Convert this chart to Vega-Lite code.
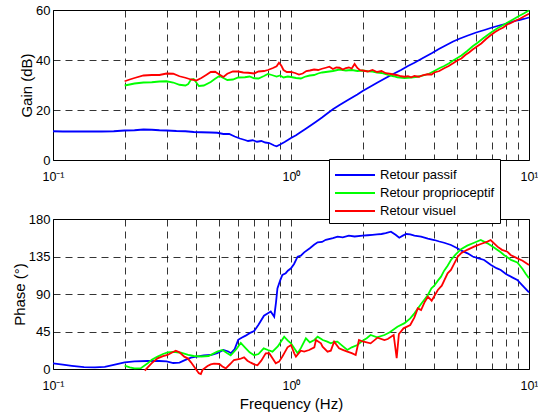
{
 "$schema": "https://vega.github.io/schema/vega-lite/v6.json",
 "padding": {"left": 11, "top": 3, "right": 2, "bottom": 2},
 "background": "white",
 "config": {
  "font": "Liberation Sans",
  "view": {"stroke": "black", "strokeWidth": 1},
  "axis": {"gridColor": "black", "gridDash": [7, 5], "gridWidth": 0.8, "gridOpacity": 1, "domain": false, "ticks": false, "labelColor": "black", "labelFont": "Liberation Sans", "labelFontSize": 13, "titleFont": "Liberation Sans", "titleFontSize": 15, "titleFontWeight": "normal", "titleColor": "black"},
  "line": {"strokeWidth": 1.8, "clip": true}
 },
 "datasets": {
  "gain": [
   {"s":"a","f":0.1,"v":11.5},{"s":"a","f":0.11,"v":11.4},{"s":"a","f":0.125,"v":11.4},{"s":"a","f":0.14,"v":11.4},{"s":"a","f":0.16,"v":11.4},{"s":"a","f":0.18,"v":11.5},{"s":"a","f":0.2,"v":11.8},{"s":"a","f":0.22,"v":11.9},{"s":"a","f":0.24,"v":12.2},{"s":"a","f":0.26,"v":12.1},{"s":"a","f":0.28,"v":11.9},{"s":"a","f":0.3,"v":11.8},{"s":"a","f":0.33,"v":11.6},{"s":"a","f":0.36,"v":11.5},{"s":"a","f":0.39,"v":11.2},{"s":"a","f":0.42,"v":11.1},{"s":"a","f":0.46,"v":11.0},{"s":"a","f":0.49,"v":10.9},{"s":"a","f":0.52,"v":10.4},{"s":"a","f":0.55,"v":10.4},{"s":"a","f":0.58,"v":9.4},{"s":"a","f":0.61,"v":8.6},{"s":"a","f":0.64,"v":8.0},{"s":"a","f":0.66,"v":7.6},{"s":"a","f":0.69,"v":7.9},{"s":"a","f":0.72,"v":7.3},{"s":"a","f":0.75,"v":7.6},{"s":"a","f":0.78,"v":7.0},{"s":"a","f":0.81,"v":6.8},{"s":"a","f":0.85,"v":5.8},{"s":"a","f":0.87,"v":5.5},{"s":"a","f":0.9,"v":6.2},{"s":"a","f":0.94,"v":7.2},{"s":"a","f":0.97,"v":8.0},{"s":"a","f":1.0,"v":8.8},{"s":"a","f":1.05,"v":9.9},{"s":"a","f":1.1,"v":11.2},{"s":"a","f":1.15,"v":12.4},{"s":"a","f":1.2,"v":13.6},{"s":"a","f":1.27,"v":15.2},{"s":"a","f":1.35,"v":17.0},{"s":"a","f":1.42,"v":18.6},{"s":"a","f":1.5,"v":20.3},{"s":"a","f":1.6,"v":22.0},{"s":"a","f":1.7,"v":23.5},{"s":"a","f":1.8,"v":24.9},{"s":"a","f":1.9,"v":26.2},{"s":"a","f":2.0,"v":27.6},{"s":"a","f":2.15,"v":29.3},{"s":"a","f":2.3,"v":30.9},{"s":"a","f":2.5,"v":32.8},{"s":"a","f":2.7,"v":34.5},{"s":"a","f":2.9,"v":36.0},{"s":"a","f":3.1,"v":37.6},{"s":"a","f":3.3,"v":38.9},{"s":"a","f":3.6,"v":40.9},{"s":"a","f":3.9,"v":42.7},{"s":"a","f":4.2,"v":44.5},{"s":"a","f":4.5,"v":46.0},{"s":"a","f":4.8,"v":47.4},{"s":"a","f":5.1,"v":48.5},{"s":"a","f":5.5,"v":49.7},{"s":"a","f":6.0,"v":51.0},{"s":"a","f":6.5,"v":52.0},{"s":"a","f":7.0,"v":53.0},{"s":"a","f":7.5,"v":53.8},{"s":"a","f":8.0,"v":54.5},{"s":"a","f":8.5,"v":55.3},{"s":"a","f":9.0,"v":55.9},{"s":"a","f":9.5,"v":56.4},{"s":"a","f":10,"v":57.0},
   {"s":"b","f":0.2,"v":29.8},{"s":"b","f":0.21,"v":30.2},{"s":"b","f":0.22,"v":30.6},{"s":"b","f":0.24,"v":31.0},{"s":"b","f":0.26,"v":31.1},{"s":"b","f":0.28,"v":31.4},{"s":"b","f":0.3,"v":31.5},{"s":"b","f":0.32,"v":31.0},{"s":"b","f":0.34,"v":30.1},{"s":"b","f":0.36,"v":29.8},{"s":"b","f":0.37,"v":30.4},{"s":"b","f":0.38,"v":32.2},{"s":"b","f":0.39,"v":32.4},{"s":"b","f":0.4,"v":31.0},{"s":"b","f":0.41,"v":29.6},{"s":"b","f":0.43,"v":29.8},{"s":"b","f":0.46,"v":31.2},{"s":"b","f":0.48,"v":32.5},{"s":"b","f":0.5,"v":33.6},{"s":"b","f":0.52,"v":32.8},{"s":"b","f":0.54,"v":32.0},{"s":"b","f":0.57,"v":32.2},{"s":"b","f":0.6,"v":33.0},{"s":"b","f":0.64,"v":33.1},{"s":"b","f":0.67,"v":33.4},{"s":"b","f":0.7,"v":32.7},{"s":"b","f":0.73,"v":32.6},{"s":"b","f":0.77,"v":33.6},{"s":"b","f":0.8,"v":34.4},{"s":"b","f":0.83,"v":34.0},{"s":"b","f":0.87,"v":33.4},{"s":"b","f":0.9,"v":33.8},{"s":"b","f":0.93,"v":33.0},{"s":"b","f":0.97,"v":33.4},{"s":"b","f":1.0,"v":33.2},{"s":"b","f":1.05,"v":32.8},{"s":"b","f":1.1,"v":32.6},{"s":"b","f":1.15,"v":33.4},{"s":"b","f":1.2,"v":33.8},{"s":"b","f":1.25,"v":34.0},{"s":"b","f":1.3,"v":34.6},{"s":"b","f":1.35,"v":35.0},{"s":"b","f":1.4,"v":35.2},{"s":"b","f":1.5,"v":35.6},{"s":"b","f":1.6,"v":36.2},{"s":"b","f":1.7,"v":35.8},{"s":"b","f":1.8,"v":36.0},{"s":"b","f":1.9,"v":35.6},{"s":"b","f":2.0,"v":35.8},{"s":"b","f":2.1,"v":35.5},{"s":"b","f":2.2,"v":35.4},{"s":"b","f":2.3,"v":35.0},{"s":"b","f":2.4,"v":34.8},{"s":"b","f":2.5,"v":34.3},{"s":"b","f":2.6,"v":33.8},{"s":"b","f":2.7,"v":33.5},{"s":"b","f":2.8,"v":33.1},{"s":"b","f":3.0,"v":32.8},{"s":"b","f":3.2,"v":33.0},{"s":"b","f":3.4,"v":33.3},{"s":"b","f":3.6,"v":33.8},{"s":"b","f":3.8,"v":34.5},{"s":"b","f":4.0,"v":35.6},{"s":"b","f":4.2,"v":36.7},{"s":"b","f":4.4,"v":37.6},{"s":"b","f":4.6,"v":38.6},{"s":"b","f":4.8,"v":39.8},{"s":"b","f":5.0,"v":40.8},{"s":"b","f":5.2,"v":41.8},{"s":"b","f":5.5,"v":43.6},{"s":"b","f":5.8,"v":45.5},{"s":"b","f":6.1,"v":47.0},{"s":"b","f":6.4,"v":48.6},{"s":"b","f":6.7,"v":50.0},{"s":"b","f":7.0,"v":51.3},{"s":"b","f":7.4,"v":52.8},{"s":"b","f":7.8,"v":54.0},{"s":"b","f":8.2,"v":55.2},{"s":"b","f":8.6,"v":56.3},{"s":"b","f":9.0,"v":57.4},{"s":"b","f":9.5,"v":58.6},{"s":"b","f":10,"v":59.8},
   {"s":"c","f":0.2,"v":31.5},{"s":"c","f":0.21,"v":32.2},{"s":"c","f":0.22,"v":32.8},{"s":"c","f":0.24,"v":33.8},{"s":"c","f":0.26,"v":34.0},{"s":"c","f":0.28,"v":34.0},{"s":"c","f":0.3,"v":34.6},{"s":"c","f":0.32,"v":34.5},{"s":"c","f":0.34,"v":33.5},{"s":"c","f":0.36,"v":32.9},{"s":"c","f":0.38,"v":32.2},{"s":"c","f":0.4,"v":31.8},{"s":"c","f":0.42,"v":32.8},{"s":"c","f":0.44,"v":34.0},{"s":"c","f":0.46,"v":35.2},{"s":"c","f":0.48,"v":35.3},{"s":"c","f":0.5,"v":34.2},{"s":"c","f":0.52,"v":33.2},{"s":"c","f":0.54,"v":34.5},{"s":"c","f":0.57,"v":35.4},{"s":"c","f":0.6,"v":35.4},{"s":"c","f":0.63,"v":35.0},{"s":"c","f":0.66,"v":34.9},{"s":"c","f":0.7,"v":34.6},{"s":"c","f":0.73,"v":35.4},{"s":"c","f":0.77,"v":35.6},{"s":"c","f":0.8,"v":36.0},{"s":"c","f":0.84,"v":36.8},{"s":"c","f":0.87,"v":37.5},{"s":"c","f":0.89,"v":38.9},{"s":"c","f":0.91,"v":37.8},{"s":"c","f":0.93,"v":36.0},{"s":"c","f":0.96,"v":35.2},{"s":"c","f":1.0,"v":35.2},{"s":"c","f":1.04,"v":34.8},{"s":"c","f":1.08,"v":34.2},{"s":"c","f":1.12,"v":34.6},{"s":"c","f":1.16,"v":35.6},{"s":"c","f":1.2,"v":35.8},{"s":"c","f":1.25,"v":36.2},{"s":"c","f":1.3,"v":36.0},{"s":"c","f":1.35,"v":36.5},{"s":"c","f":1.4,"v":36.9},{"s":"c","f":1.45,"v":37.3},{"s":"c","f":1.5,"v":36.4},{"s":"c","f":1.55,"v":37.0},{"s":"c","f":1.6,"v":36.9},{"s":"c","f":1.65,"v":36.2},{"s":"c","f":1.7,"v":36.8},{"s":"c","f":1.75,"v":37.0},{"s":"c","f":1.8,"v":36.6},{"s":"c","f":1.85,"v":38.4},{"s":"c","f":1.9,"v":36.8},{"s":"c","f":1.95,"v":35.9},{"s":"c","f":2.0,"v":35.8},{"s":"c","f":2.1,"v":35.4},{"s":"c","f":2.2,"v":36.0},{"s":"c","f":2.3,"v":35.2},{"s":"c","f":2.4,"v":35.6},{"s":"c","f":2.5,"v":34.7},{"s":"c","f":2.6,"v":34.5},{"s":"c","f":2.7,"v":34.2},{"s":"c","f":2.8,"v":33.9},{"s":"c","f":2.9,"v":33.5},{"s":"c","f":3.0,"v":33.3},{"s":"c","f":3.1,"v":33.5},{"s":"c","f":3.2,"v":33.1},{"s":"c","f":3.3,"v":33.6},{"s":"c","f":3.45,"v":33.3},{"s":"c","f":3.6,"v":34.0},{"s":"c","f":3.75,"v":34.3},{"s":"c","f":3.9,"v":34.2},{"s":"c","f":4.0,"v":35.0},{"s":"c","f":4.2,"v":35.6},{"s":"c","f":4.4,"v":36.7},{"s":"c","f":4.6,"v":37.6},{"s":"c","f":4.8,"v":38.7},{"s":"c","f":5.0,"v":39.8},{"s":"c","f":5.2,"v":40.6},{"s":"c","f":5.4,"v":42.0},{"s":"c","f":5.6,"v":43.0},{"s":"c","f":5.8,"v":44.2},{"s":"c","f":6.0,"v":45.2},{"s":"c","f":6.3,"v":46.6},{"s":"c","f":6.6,"v":48.4},{"s":"c","f":6.9,"v":49.9},{"s":"c","f":7.2,"v":51.2},{"s":"c","f":7.5,"v":52.2},{"s":"c","f":7.8,"v":53.0},{"s":"c","f":8.1,"v":54.2},{"s":"c","f":8.4,"v":54.8},{"s":"c","f":8.8,"v":55.8},{"s":"c","f":9.2,"v":56.6},{"s":"c","f":9.6,"v":57.6},{"s":"c","f":10,"v":58.5}
  ],
  "phase": [
   {"s":"a","f":0.1,"v":6.8},{"s":"a","f":0.11,"v":5.2},{"s":"a","f":0.12,"v":3.8},{"s":"a","f":0.135,"v":2.2},{"s":"a","f":0.15,"v":2.0},{"s":"a","f":0.165,"v":2.6},{"s":"a","f":0.18,"v":5.0},{"s":"a","f":0.2,"v":8.0},{"s":"a","f":0.22,"v":9.2},{"s":"a","f":0.25,"v":9.6},{"s":"a","f":0.28,"v":9.6},{"s":"a","f":0.3,"v":9.2},{"s":"a","f":0.32,"v":7.2},{"s":"a","f":0.34,"v":7.6},{"s":"a","f":0.36,"v":11.0},{"s":"a","f":0.38,"v":13.6},{"s":"a","f":0.4,"v":14.8},{"s":"a","f":0.43,"v":16.2},{"s":"a","f":0.46,"v":16.8},{"s":"a","f":0.49,"v":19.0},{"s":"a","f":0.52,"v":22.8},{"s":"a","f":0.545,"v":21.0},{"s":"a","f":0.56,"v":19.0},{"s":"a","f":0.58,"v":24.0},{"s":"a","f":0.6,"v":35.0},{"s":"a","f":0.62,"v":37.6},{"s":"a","f":0.645,"v":40.0},{"s":"a","f":0.67,"v":43.0},{"s":"a","f":0.7,"v":45.5},{"s":"a","f":0.73,"v":53},{"s":"a","f":0.77,"v":64},{"s":"a","f":0.8,"v":67},{"s":"a","f":0.822,"v":69},{"s":"a","f":0.85,"v":62.8},{"s":"a","f":0.865,"v":80},{"s":"a","f":0.877,"v":96.8},{"s":"a","f":0.9,"v":106},{"s":"a","f":0.92,"v":112.8},{"s":"a","f":0.95,"v":115},{"s":"a","f":0.97,"v":118},{"s":"a","f":1.0,"v":120.8},{"s":"a","f":1.03,"v":126},{"s":"a","f":1.066,"v":134.8},{"s":"a","f":1.1,"v":136},{"s":"a","f":1.136,"v":140},{"s":"a","f":1.2,"v":145},{"s":"a","f":1.25,"v":149},{"s":"a","f":1.294,"v":152},{"s":"a","f":1.35,"v":152.5},{"s":"a","f":1.4,"v":155},{"s":"a","f":1.5,"v":157},{"s":"a","f":1.57,"v":158.8},{"s":"a","f":1.65,"v":158},{"s":"a","f":1.75,"v":160},{"s":"a","f":1.85,"v":159},{"s":"a","f":2.0,"v":160},{"s":"a","f":2.1,"v":160.5},{"s":"a","f":2.2,"v":161},{"s":"a","f":2.3,"v":161.5},{"s":"a","f":2.4,"v":162},{"s":"a","f":2.5,"v":163},{"s":"a","f":2.63,"v":164.8},{"s":"a","f":2.75,"v":161},{"s":"a","f":2.85,"v":157.6},{"s":"a","f":2.95,"v":160},{"s":"a","f":3.05,"v":162},{"s":"a","f":3.17,"v":161.6},{"s":"a","f":3.3,"v":160},{"s":"a","f":3.52,"v":158.8},{"s":"a","f":3.76,"v":156.5},{"s":"a","f":4.0,"v":154.8},{"s":"a","f":4.2,"v":153},{"s":"a","f":4.4,"v":151.5},{"s":"a","f":4.7,"v":148.8},{"s":"a","f":5.0,"v":145},{"s":"a","f":5.2,"v":142},{"s":"a","f":5.52,"v":138.8},{"s":"a","f":5.8,"v":135},{"s":"a","f":6.1,"v":133},{"s":"a","f":6.48,"v":130.8},{"s":"a","f":6.9,"v":125},{"s":"a","f":7.3,"v":121},{"s":"a","f":7.61,"v":118.8},{"s":"a","f":8.0,"v":114},{"s":"a","f":8.5,"v":110},{"s":"a","f":8.93,"v":106.8},{"s":"a","f":9.4,"v":100},{"s":"a","f":10,"v":92},
   {"s":"b","f":0.2,"v":4},{"s":"b","f":0.21,"v":2},{"s":"b","f":0.22,"v":0.8},{"s":"b","f":0.234,"v":1.0},{"s":"b","f":0.25,"v":6.8},{"s":"b","f":0.26,"v":11},{"s":"b","f":0.275,"v":14.8},{"s":"b","f":0.29,"v":18},{"s":"b","f":0.303,"v":20},{"s":"b","f":0.32,"v":20.5},{"s":"b","f":0.345,"v":19.5},{"s":"b","f":0.37,"v":17},{"s":"b","f":0.39,"v":15.6},{"s":"b","f":0.42,"v":15.0},{"s":"b","f":0.45,"v":15.6},{"s":"b","f":0.49,"v":20.8},{"s":"b","f":0.515,"v":22.8},{"s":"b","f":0.54,"v":19},{"s":"b","f":0.558,"v":16.5},{"s":"b","f":0.59,"v":24},{"s":"b","f":0.615,"v":31.2},{"s":"b","f":0.64,"v":26},{"s":"b","f":0.67,"v":20},{"s":"b","f":0.7,"v":16.5},{"s":"b","f":0.73,"v":18},{"s":"b","f":0.768,"v":24.8},{"s":"b","f":0.8,"v":22.8},{"s":"b","f":0.836,"v":20.8},{"s":"b","f":0.88,"v":27},{"s":"b","f":0.936,"v":38.8},{"s":"b","f":0.97,"v":34},{"s":"b","f":1.0,"v":30.8},{"s":"b","f":1.066,"v":18.8},{"s":"b","f":1.1,"v":25},{"s":"b","f":1.155,"v":36.8},{"s":"b","f":1.2,"v":32},{"s":"b","f":1.253,"v":34.8},{"s":"b","f":1.294,"v":38.8},{"s":"b","f":1.36,"v":34.8},{"s":"b","f":1.42,"v":32.8},{"s":"b","f":1.47,"v":30.8},{"s":"b","f":1.52,"v":32.5},{"s":"b","f":1.567,"v":32.8},{"s":"b","f":1.64,"v":28},{"s":"b","f":1.725,"v":22.8},{"s":"b","f":1.8,"v":26},{"s":"b","f":1.9,"v":28.8},{"s":"b","f":2.0,"v":34},{"s":"b","f":2.08,"v":37},{"s":"b","f":2.16,"v":40.8},{"s":"b","f":2.3,"v":38},{"s":"b","f":2.47,"v":40.8},{"s":"b","f":2.6,"v":44},{"s":"b","f":2.8,"v":50.8},{"s":"b","f":3.0,"v":55},{"s":"b","f":3.17,"v":60.8},{"s":"b","f":3.3,"v":66.8},{"s":"b","f":3.4,"v":72},{"s":"b","f":3.52,"v":78},{"s":"b","f":3.76,"v":88.8},{"s":"b","f":3.89,"v":96.8},{"s":"b","f":4.0,"v":100},{"s":"b","f":4.14,"v":106},{"s":"b","f":4.27,"v":110.8},{"s":"b","f":4.4,"v":118},{"s":"b","f":4.55,"v":124},{"s":"b","f":4.7,"v":130.8},{"s":"b","f":4.9,"v":137},{"s":"b","f":5.18,"v":143.8},{"s":"b","f":5.5,"v":148},{"s":"b","f":5.88,"v":151.5},{"s":"b","f":6.27,"v":154.8},{"s":"b","f":6.69,"v":150.8},{"s":"b","f":7.1,"v":146},{"s":"b","f":7.61,"v":140},{"s":"b","f":7.85,"v":136.8},{"s":"b","f":8.4,"v":131},{"s":"b","f":8.93,"v":127.8},{"s":"b","f":9.4,"v":120},{"s":"b","f":9.7,"v":114},{"s":"b","f":10,"v":108.8},
   {"s":"c","f":0.243,"v":-2},{"s":"c","f":0.25,"v":2},{"s":"c","f":0.26,"v":7},{"s":"c","f":0.275,"v":12.8},{"s":"c","f":0.29,"v":15.5},{"s":"c","f":0.303,"v":16.8},{"s":"c","f":0.315,"v":19.5},{"s":"c","f":0.328,"v":22},{"s":"c","f":0.34,"v":20},{"s":"c","f":0.356,"v":14.8},{"s":"c","f":0.368,"v":12.8},{"s":"c","f":0.38,"v":8},{"s":"c","f":0.398,"v":0},{"s":"c","f":0.41,"v":-5},{"s":"c","f":0.418,"v":-6},{"s":"c","f":0.425,"v":-1},{"s":"c","f":0.446,"v":3.6},{"s":"c","f":0.46,"v":5.6},{"s":"c","f":0.475,"v":6.5},{"s":"c","f":0.5,"v":6.0},{"s":"c","f":0.515,"v":3},{"s":"c","f":0.532,"v":0.8},{"s":"c","f":0.555,"v":6},{"s":"c","f":0.576,"v":10.8},{"s":"c","f":0.61,"v":12},{"s":"c","f":0.635,"v":14},{"s":"c","f":0.656,"v":10},{"s":"c","f":0.678,"v":7.6},{"s":"c","f":0.7,"v":5.5},{"s":"c","f":0.723,"v":4.5},{"s":"c","f":0.75,"v":10},{"s":"c","f":0.783,"v":18.8},{"s":"c","f":0.81,"v":19},{"s":"c","f":0.836,"v":12.8},{"s":"c","f":0.863,"v":6.8},{"s":"c","f":0.891,"v":8.8},{"s":"c","f":0.92,"v":15},{"s":"c","f":0.936,"v":18.8},{"s":"c","f":0.967,"v":26},{"s":"c","f":1.0,"v":28.8},{"s":"c","f":1.032,"v":18.8},{"s":"c","f":1.049,"v":14.8},{"s":"c","f":1.1,"v":22},{"s":"c","f":1.136,"v":20.8},{"s":"c","f":1.192,"v":22.8},{"s":"c","f":1.253,"v":26},{"s":"c","f":1.273,"v":34.8},{"s":"c","f":1.336,"v":30.8},{"s":"c","f":1.357,"v":26.8},{"s":"c","f":1.424,"v":20.8},{"s":"c","f":1.47,"v":22},{"s":"c","f":1.518,"v":32.8},{"s":"c","f":1.592,"v":24.8},{"s":"c","f":1.65,"v":23},{"s":"c","f":1.725,"v":20.8},{"s":"c","f":1.8,"v":19},{"s":"c","f":1.87,"v":16.8},{"s":"c","f":1.93,"v":34.8},{"s":"c","f":2.0,"v":33},{"s":"c","f":2.16,"v":30.8},{"s":"c","f":2.31,"v":37.6},{"s":"c","f":2.47,"v":34.8},{"s":"c","f":2.55,"v":36},{"s":"c","f":2.7,"v":40.8},{"s":"c","f":2.78,"v":13},{"s":"c","f":2.84,"v":42},{"s":"c","f":2.97,"v":48.8},{"s":"c","f":3.17,"v":52.8},{"s":"c","f":3.3,"v":62},{"s":"c","f":3.41,"v":72.8},{"s":"c","f":3.52,"v":70.8},{"s":"c","f":3.65,"v":80.8},{"s":"c","f":3.76,"v":86.8},{"s":"c","f":3.9,"v":82},{"s":"c","f":4.14,"v":94.8},{"s":"c","f":4.3,"v":100},{"s":"c","f":4.55,"v":114.8},{"s":"c","f":4.7,"v":118.8},{"s":"c","f":5.02,"v":134.8},{"s":"c","f":5.18,"v":138.8},{"s":"c","f":5.5,"v":143},{"s":"c","f":5.88,"v":146.8},{"s":"c","f":6.27,"v":150},{"s":"c","f":6.69,"v":152.8},{"s":"c","f":6.9,"v":154.8},{"s":"c","f":7.37,"v":146.8},{"s":"c","f":7.7,"v":143},{"s":"c","f":8.11,"v":140.8},{"s":"c","f":8.37,"v":136.8},{"s":"c","f":8.9,"v":133},{"s":"c","f":9.4,"v":130},{"s":"c","f":10,"v":124.8}
  ]
 },
 "spacing": 29,
 "vconcat": [
  {
   "width": 476, "height": 150,
   "data": {"name": "gain"},
   "mark": {"type": "line"},
   "encoding": {
    "x": {"field": "f", "type": "quantitative", "scale": {"type": "log", "domain": [0.1, 10], "nice": false},
          "axis": {"values": [0.1,0.2,0.3,0.4,0.5,0.6,0.7,0.8,0.9,1,2,3,4,5,6,7,8,9,10], "labelExpr": "abs(datum.value-0.1)<1e-9 ? '10⁻¹' : abs(datum.value-1)<1e-9 ? '10⁰' : abs(datum.value-10)<1e-9 ? '10¹' : ''", "title": null, "labelPadding": 10, "labelFontSize": 12.5, "labelFlush": false}},
    "y": {"field": "v", "type": "quantitative", "scale": {"domain": [0, 60], "nice": false},
          "axis": {"values": [0, 20, 40, 60], "title": "Gain (dB)", "labelPadding": 3, "titlePadding": 1}},
    "color": {"field": "s", "type": "nominal", "scale": {"domain": ["a", "b", "c"], "range": ["#0000ff", "#00ff00", "#ff0000"]},
          "legend": {"orient": "none", "legendX": 276, "legendY": 149, "title": null, "labelExpr": "datum.label=='a' ? 'Retour passif' : datum.label=='b' ? 'Retour proprioceptif' : 'Retour visuel'", "symbolType": "M-2,0H2", "symbolSize": 400, "symbolOffset": 10, "symbolStrokeWidth": 2, "fillColor": "white", "strokeColor": "black", "padding": 5, "labelFontSize": 13, "labelFont": "Liberation Sans", "labelColor": "black", "labelOffset": 14, "rowPadding": -1}}
   }
  },
  {
   "width": 476, "height": 150,
   "data": {"name": "phase"},
   "mark": {"type": "line"},
   "encoding": {
    "x": {"field": "f", "type": "quantitative", "scale": {"type": "log", "domain": [0.1, 10], "nice": false},
          "axis": {"values": [0.1,0.2,0.3,0.4,0.5,0.6,0.7,0.8,0.9,1,2,3,4,5,6,7,8,9,10], "labelExpr": "abs(datum.value-0.1)<1e-9 ? '10⁻¹' : abs(datum.value-1)<1e-9 ? '10⁰' : abs(datum.value-10)<1e-9 ? '10¹' : ''", "title": "Frequency (Hz)", "labelPadding": 10, "labelFontSize": 12.5, "labelFlush": false, "titlePadding": 5}},
    "y": {"field": "v", "type": "quantitative", "scale": {"domain": [0, 180], "nice": false},
          "axis": {"values": [0, 45, 90, 135, 180], "title": "Phase (°)", "labelPadding": 3, "titlePadding": 1}},
    "color": {"field": "s", "type": "nominal", "scale": {"domain": ["a", "b", "c"], "range": ["#0000ff", "#00ff00", "#ff0000"]}, "legend": null}
   }
  }
 ]
}
